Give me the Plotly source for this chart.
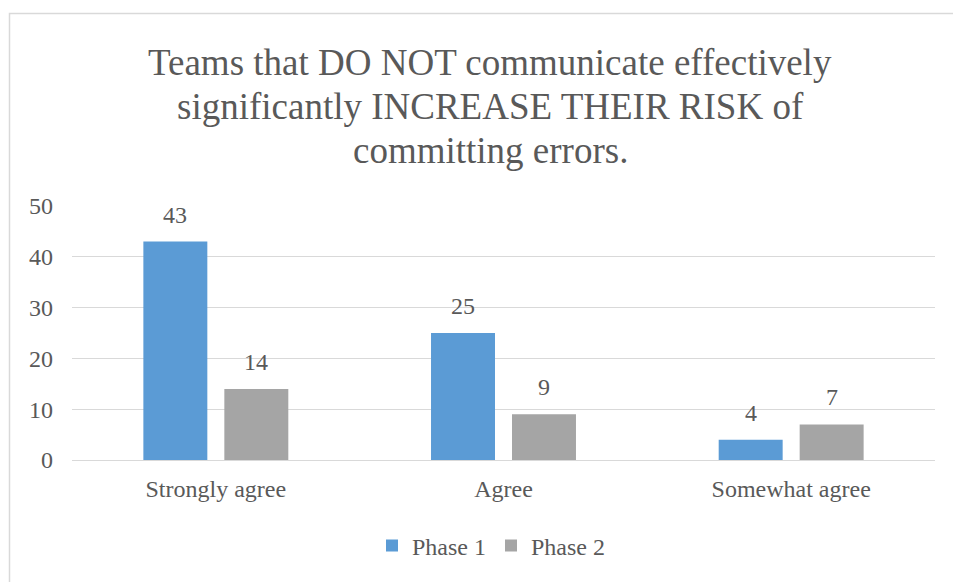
import plotly.graph_objects as go

categories = ["Strongly agree", "Agree", "Somewhat agree"]
phase1 = [43, 25, 4]
phase2 = [14, 9, 7]
series_names = ["Phase 1", "Phase 2"]
title_lines = [
    "Teams that DO NOT communicate effectively",
    "significantly INCREASE THEIR RISK of",
    "committing errors.",
]

BLUE = "#5B9BD5"
GRAY = "#A5A5A5"
TEXT = "#595959"
FONT = "Liberation Serif, Times New Roman, serif"

W, H = 953, 582
L, R, T, B = 72, 18, 206, 122
pw, ph = W - L - R, H - T - B

BARGAP, GROUPGAP = 0.437, 0.21
slot_px = (1 - BARGAP) * (pw / len(categories)) / 2  # width of one bar slot in px

fig = go.Figure()
series = [(series_names[0], phase1, BLUE), (series_names[1], phase2, GRAY)]
for name, vals, col in series:
    fig.add_trace(go.Bar(x=categories, y=vals, name=name,
                         marker_color=col, marker_line_width=0))

# value labels above each bar
for i, (name, vals, col) in enumerate(series):
    offset = (i - 0.5) * slot_px
    for cat, v in zip(categories, vals):
        fig.add_annotation(x=cat, y=v, xref="x", yref="y", text=str(v),
                           showarrow=False, xshift=offset, yanchor="bottom", yshift=12,
                           font=dict(size=24, color=TEXT, family=FONT))

# title, one line per annotation for tighter leading
for k, (line, ypx) in enumerate(zip(title_lines, [63, 106, 150])):
    fig.add_annotation(text=line, xref="paper", yref="paper",
                       x=(490 - L) / pw, y=(T + ph - ypx) / ph,
                       xanchor="center", yanchor="middle", showarrow=False,
                       font=dict(size=37, color=TEXT, family=FONT))

fig.update_layout(
    width=W, height=H,
    margin=dict(l=L, r=R, t=T, b=B),
    paper_bgcolor="white", plot_bgcolor="white",
    barmode="group", bargap=BARGAP, bargroupgap=GROUPGAP,
    font=dict(family=FONT, color=TEXT, size=24),
    xaxis=dict(showgrid=False, showline=False, ticks="", tickfont=dict(size=24),
               ticklabelstandoff=12),
    yaxis=dict(range=[0, 50], dtick=10, showgrid=True, gridcolor="#D9D9D9", gridwidth=1.3,
               zeroline=True, zerolinecolor="#D9D9D9", zerolinewidth=1.3,
               showline=False, ticks="", tickfont=dict(size=24), ticklabelstandoff=18),
    legend=dict(orientation="h", x=(491 - L) / pw, xanchor="center",
                y=(T + ph - 546) / ph, yanchor="middle",
                font=dict(size=24, color=TEXT), itemwidth=30, traceorder="normal"),
    showlegend=True,
)

# chart frame
fig.add_shape(type="rect", xref="paper", yref="paper",
              x0=(9.5 - L) / pw, x1=(W + 20 - L) / pw,
              y0=(T + ph - (H + 20)) / ph, y1=(T + ph - 13.5) / ph,
              line=dict(color="#D9D9D9", width=1.5), fillcolor="rgba(0,0,0,0)", layer="below")

fig.write_html("out.html")
